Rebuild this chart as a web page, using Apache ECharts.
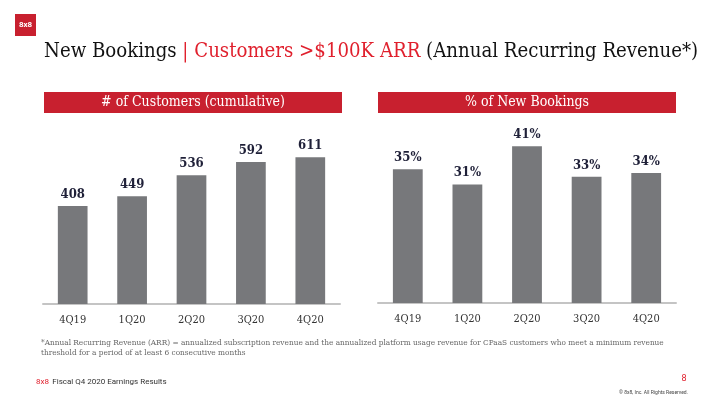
<!DOCTYPE html>
<html>
<head>
<meta charset="utf-8">
<script src="https://cdn.jsdelivr.net/npm/echarts@6/dist/echarts.min.js"></script>
<style>html,body{margin:0;padding:0;background:#fff}#c{width:720px;height:405px}</style>
</head>
<body>
<div id="c"></div>
<script>
const categories = ['4Q19', '1Q20', '2Q20', '3Q20', '4Q20'];
const customers = [408, 449, 536, 592, 611];
const pctNewBookings = [35, 31, 41, 33, 34];

const SERIF = "'DejaVu Serif Condensed','DejaVu Serif',serif";
const SANS = "Roboto,'Noto Sans',sans-serif";
const RED = '#c8202f';
const BAR = '#77787b';
const LBL = '#1f2038';

const chart = echarts.init(document.getElementById('c'));

function xAx(gi) {
  return {
    type: 'category', gridIndex: gi, data: categories,
    axisLine: {lineStyle: {color: '#c4c4c4', width: 2}},
    axisTick: {show: false},
    axisLabel: {color: '#333', fontSize: 11, fontFamily: SERIF, margin: 11}
  };
}
function yAx(gi, max) {
  return {type: 'value', gridIndex: gi, min: 0, max: max, show: false, splitLine: {show: false}};
}
function barSeries(i, data, fmt) {
  return {
    type: 'bar', xAxisIndex: i, yAxisIndex: i, data: data, barWidth: '50%',
    itemStyle: {color: BAR},
    label: {show: true, position: 'top', distance: 5, color: LBL, fontWeight: 'bold',
      fontSize: 13, fontFamily: SERIF, formatter: fmt},
    silent: true, animation: false
  };
}

chart.setOption({
  animation: false,
  grid: [
    {left: 43, width: 297, top: 136, bottom: 101},
    {left: 378, width: 298, top: 131, bottom: 102}
  ],
  xAxis: [xAx(0), xAx(1)],
  yAxis: [yAx(0, 700), yAx(1, 45)],
  series: [
    barSeries(0, customers, p => p.value),
    barSeries(1, pctNewBookings, p => p.value + '%')
  ],
  graphic: [
    {type: 'rect', shape: {x: 15, y: 14, width: 21, height: 22}, style: {fill: RED}},
    {type: 'text', x: 25.5, y: 25, style: {text: '8x8', fill: '#fff', font: 'bold 8px ' + SANS, align: 'center', verticalAlign: 'middle'}},
    {type: 'text', x: 44, y: 52, style: {
      text: '{a|New Bookings }{b|| Customers >$100K ARR }{a|(Annual Recurring Revenue*)}',
      verticalAlign: 'middle',
      rich: {
        a: {fontFamily: SERIF, fontSize: 20.2, fill: '#111'},
        b: {fontFamily: SERIF, fontSize: 20.2, fill: '#e0202d'}
      }
    }},
    {type: 'rect', shape: {x: 44, y: 92, width: 298, height: 21}, style: {fill: RED}},
    {type: 'text', x: 193, y: 102.5, style: {text: '# of Customers (cumulative)', fill: '#fff', font: '14px ' + SERIF, align: 'center', verticalAlign: 'middle'}},
    {type: 'rect', shape: {x: 378, y: 92, width: 298, height: 21}, style: {fill: RED}},
    {type: 'text', x: 527, y: 102.5, style: {text: '% of New Bookings', fill: '#fff', font: '14px ' + SERIF, align: 'center', verticalAlign: 'middle'}},
    {type: 'text', x: 41, y: 348, style: {
      text: '*Annual Recurring Revenue (ARR) = annualized subscription revenue and the annualized platform usage revenue for CPaaS customers who meet a minimum revenue\nthreshold for a period of at least 6 consecutive months',
      fill: '#666', font: '8.2px ' + SERIF, verticalAlign: 'middle', lineHeight: 10
    }},
    {type: 'text', x: 36, y: 382, style: {
      text: '{r|8x8} {k|Fiscal Q4 2020 Earnings Results}', verticalAlign: 'middle',
      rich: {
        r: {fill: '#e0202d', fontFamily: SANS, fontSize: 8},
        k: {fill: '#333', fontFamily: SANS, fontSize: 8}
      }
    }},
    {type: 'text', x: 684, y: 379, style: {text: '8', fill: '#e0202d', font: '9px ' + SANS, align: 'center', verticalAlign: 'middle'}},
    {type: 'text', x: 688, y: 393, style: {text: '© 8x8, Inc. All Rights Reserved.', fill: '#444', font: '5px ' + SANS, align: 'right', verticalAlign: 'middle'}}
  ]
});
</script>
</body>
</html>
